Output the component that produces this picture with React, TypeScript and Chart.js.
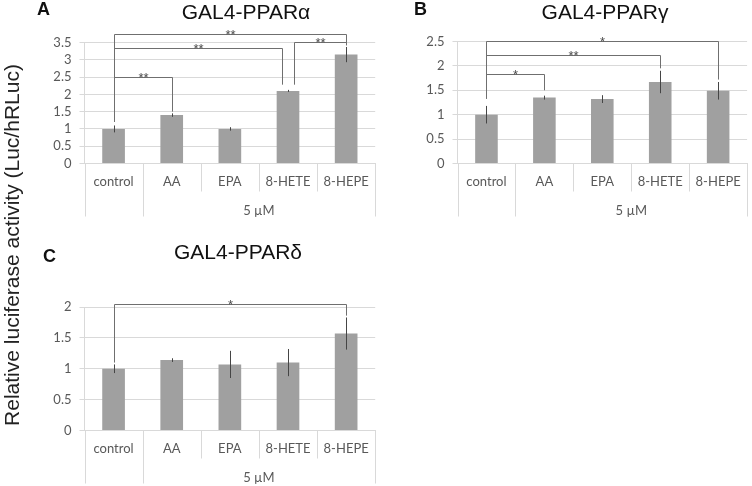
import React, { useEffect, useRef } from 'react';
import { Chart, registerables } from 'chart.js';

Chart.register(...registerables);

// ---------- data ----------
const categories = ['control', 'AA', 'EPA', '8-HETE', '8-HEPE'];
const groupLabel = '5 µM';
const groupStartIndex = 1;

const alphaMeans = [1.0, 1.4, 1.0, 2.1, 3.15];
const alphaErrors = [0.1, 0.05, 0.05, 0.03, 0.22];
const gammaMeans = [1.0, 1.35, 1.32, 1.67, 1.49];
const gammaErrors = [0.18, 0.04, 0.08, 0.23, 0.18];
const deltaMeans = [1.0, 1.14, 1.07, 1.1, 1.57];
const deltaErrors = [0.07, 0.03, 0.22, 0.22, 0.26];

const alphaYMax = 3.5;
const gammaYMax = 2.5;
const deltaYMax = 2;
const yStep = 0.5;

type Bracket = { from: number; to: number; level: number; footFrom: number; footTo: number; mark: string };

const alphaBrackets: Bracket[] = [
  { from: 0, to: 1, level: 2.5, footFrom: 1.2, footTo: 1.5, mark: '**' },
  { from: 0, to: 2.9, level: 3.34, footFrom: 1.2, footTo: 2.28, mark: '**' },
  { from: 3.1, to: 4, level: 3.52, footFrom: 2.28, footTo: 3.42, mark: '**' },
  { from: 0, to: 4, level: 3.76, footFrom: 1.2, footTo: 3.42, mark: '**' },
];
const gammaBrackets: Bracket[] = [
  { from: 0, to: 1, level: 1.83, footFrom: 1.33, footTo: 1.5, mark: '*' },
  { from: 0, to: 3, level: 2.22, footFrom: 1.33, footTo: 1.95, mark: '**' },
  { from: 0, to: 4, level: 2.51, footFrom: 1.33, footTo: 1.72, mark: '*' },
];
const deltaBrackets: Bracket[] = [
  { from: 0, to: 4, level: 2.05, footFrom: 1.1, footTo: 1.86, mark: '*' },
];

const yAxisTitle = 'Relative luciferase activity (Luc/hRLuc)';

// ---------- styling ----------
const TICK_FONT = 'Lato, "Open Sans", sans-serif';
const TICK_COLOR = '#595959';
const GRID_COLOR = '#d9d9d9';
const BAR_COLOR = '#a0a0a0';
const Y_W = 40;

type Box = { left: number; top: number; w: number; h: number };
type Area = { left: number; top: number; right: number; bottom: number };

interface PanelProps {
  letter: string;
  title: string;
  means: number[];
  errors: number[];
  brackets: Bracket[];
  yMax: number;
  box: Box;
  area: Area;
  xH: number;
  titleX: number;
  titleY: number;
  letterX: number;
  letterY: number;
}

function makePlugin(p: PanelProps) {
  const crisp = (v: number) => Math.round(v) + 0.5;
  return {
    id: 'panelDecor' + p.letter,
    afterDatasetsDraw(chart: any) {
      const ctx = chart.ctx as CanvasRenderingContext2D;
      const xs = chart.scales.x;
      const ys = chart.scales.y;
      const meta = chart.getDatasetMeta(0);
      ctx.save();
      // error bars
      ctx.strokeStyle = '#454545';
      ctx.lineWidth = 1;
      p.errors.forEach((e, i) => {
        const m = p.means[i];
        const px = crisp(meta.data[i].x);
        ctx.beginPath();
        ctx.moveTo(px, ys.getPixelForValue(m + e));
        ctx.lineTo(px, ys.getPixelForValue(m - e));
        ctx.stroke();
      });
      // significance brackets
      ctx.strokeStyle = '#6f6f6f';
      p.brackets.forEach((b) => {
        const x1 = crisp(xs.getPixelForValue(b.from));
        const x2 = crisp(xs.getPixelForValue(b.to));
        const yl = crisp(ys.getPixelForValue(b.level));
        ctx.beginPath();
        ctx.moveTo(x1, ys.getPixelForValue(b.footFrom));
        ctx.lineTo(x1, yl);
        ctx.lineTo(x2, yl);
        ctx.lineTo(x2, ys.getPixelForValue(b.footTo));
        ctx.stroke();
        ctx.fillStyle = '#4a4a4a';
        ctx.font = '13px "Liberation Sans", Arial, sans-serif';
        ctx.textAlign = 'center';
        ctx.textBaseline = 'alphabetic';
        ctx.fillText(b.mark, (x1 + x2) / 2, yl + 4);
      });
      ctx.restore();
    },
    afterDraw(chart: any) {
      const ctx = chart.ctx as CanvasRenderingContext2D;
      const xs = chart.scales.x;
      const bottom = chart.chartArea.bottom;
      ctx.save();
      // multi-level category separators
      const n = categories.length;
      const bounds: number[] = [];
      for (let i = 0; i <= n; i++) bounds.push(xs.getPixelForValue(i - 0.5));
      ctx.strokeStyle = GRID_COLOR;
      ctx.lineWidth = 1;
      bounds.forEach((bx, i) => {
        const long = i === 0 || i === groupStartIndex || i === n;
        const x = crisp(bx);
        ctx.beginPath();
        ctx.moveTo(x, bottom);
        ctx.lineTo(x, bottom + (long ? 53 : 28));
        ctx.stroke();
      });
      ctx.fillStyle = TICK_COLOR;
      ctx.font = `13px ${TICK_FONT}`;
      ctx.textAlign = 'center';
      ctx.textBaseline = 'middle';
      ctx.fillText(groupLabel, (bounds[groupStartIndex] + bounds[n]) / 2, bottom + 47);
      // title
      ctx.fillStyle = '#111111';
      ctx.font = '21px "Liberation Sans", Arial, sans-serif';
      ctx.textAlign = 'center';
      ctx.textBaseline = 'alphabetic';
      ctx.fillText(p.title, p.titleX - p.box.left, p.titleY - p.box.top);
      // panel letter
      ctx.font = 'bold 18px "Liberation Sans", Arial, sans-serif';
      ctx.textAlign = 'left';
      ctx.fillText(p.letter, p.letterX - p.box.left, p.letterY - p.box.top);
      ctx.restore();
    },
  };
}

function Panel(p: PanelProps) {
  const ref = useRef<HTMLCanvasElement>(null);
  useEffect(() => {
    const canvas = ref.current!;
    const { box, area } = p;
    const chart = new Chart(canvas, {
      type: 'bar',
      data: {
        labels: categories,
        datasets: [
          {
            data: p.means,
            backgroundColor: BAR_COLOR,
            borderWidth: 0,
            barPercentage: 0.39,
            categoryPercentage: 1,
          },
        ],
      },
      options: {
        responsive: false,
        maintainAspectRatio: false,
        animation: false,
        events: [],
        layout: {
          padding: {
            left: area.left - box.left - Y_W,
            top: area.top - box.top,
            right: box.left + box.w - area.right,
            bottom: box.top + box.h - area.bottom - p.xH,
          },
        },
        plugins: {
          legend: { display: false },
          tooltip: { enabled: false },
          title: { display: false },
        },
        scales: {
          x: {
            type: 'category',
            offset: true,
            grid: { display: false, drawTicks: false },
            border: { display: true, color: GRID_COLOR },
            ticks: {
              padding: 11,
              color: TICK_COLOR,
              font: { family: TICK_FONT, size: 13 },
              maxRotation: 0,
              autoSkip: false,
            },
            afterFit: (s: any) => {
              s.height = p.xH;
            },
          },
          y: {
            min: 0,
            max: p.yMax,
            ticks: {
              stepSize: yStep,
              padding: 8,
              autoSkip: false,
              color: TICK_COLOR,
              font: { family: TICK_FONT, size: 13 },
              callback: (v: any) => String(Math.round(Number(v) * 10) / 10),
            },
            grid: { color: GRID_COLOR, tickLength: 5, drawTicks: true },
            border: { display: true, color: GRID_COLOR },
            afterFit: (s: any) => {
              s.width = Y_W;
            },
          },
        },
      },
      plugins: [makePlugin(p)],
    } as any);
    return () => chart.destroy();
  }, []);
  return (
    <canvas
      ref={ref}
      width={p.box.w}
      height={p.box.h}
      style={{ position: 'absolute', left: p.box.left, top: p.box.top, width: p.box.w, height: p.box.h }}
    />
  );
}

export default function App() {
  return (
    <div
      style={{
        position: 'absolute',
        left: 0,
        top: 0,
        width: 752,
        height: 486,
        overflow: 'hidden',
        background: '#ffffff',
      }}
    >
      <Panel
        letter="A"
        title="GAL4-PPARα"
        means={alphaMeans}
        errors={alphaErrors}
        brackets={alphaBrackets}
        yMax={alphaYMax}
        box={{ left: 0, top: 0, w: 380, h: 240 }}
        area={{ left: 84.5, top: 42.5, right: 377, bottom: 163.5 }}
        xH={60}
        titleX={246}
        titleY={19}
        letterX={37}
        letterY={15}
      />
      <Panel
        letter="B"
        title="GAL4-PPARγ"
        means={gammaMeans}
        errors={gammaErrors}
        brackets={gammaBrackets}
        yMax={gammaYMax}
        box={{ left: 380, top: 0, w: 372, h: 240 }}
        area={{ left: 457.5, top: 41.5, right: 749, bottom: 163.5 }}
        xH={60}
        titleX={605}
        titleY={19}
        letterX={414}
        letterY={15}
      />
      <Panel
        letter="C"
        title="GAL4-PPARδ"
        means={deltaMeans}
        errors={deltaErrors}
        brackets={deltaBrackets}
        yMax={deltaYMax}
        box={{ left: 0, top: 240, w: 380, h: 246 }}
        area={{ left: 84.5, top: 307, right: 377, bottom: 430.5 }}
        xH={50}
        titleX={238}
        titleY={259}
        letterX={43}
        letterY={262}
      />
      <div
        style={{
          position: 'absolute',
          left: 12 - 200,
          top: 245 - 13,
          width: 400,
          height: 26,
          lineHeight: '26px',
          textAlign: 'center',
          transform: 'rotate(-90deg)',
          transformOrigin: '50% 50%',
          fontFamily: '"Liberation Sans", Arial, sans-serif',
          fontSize: 21,
          color: '#222222',
          whiteSpace: 'nowrap',
        }}
      >
        {yAxisTitle}
      </div>
    </div>
  );
}
